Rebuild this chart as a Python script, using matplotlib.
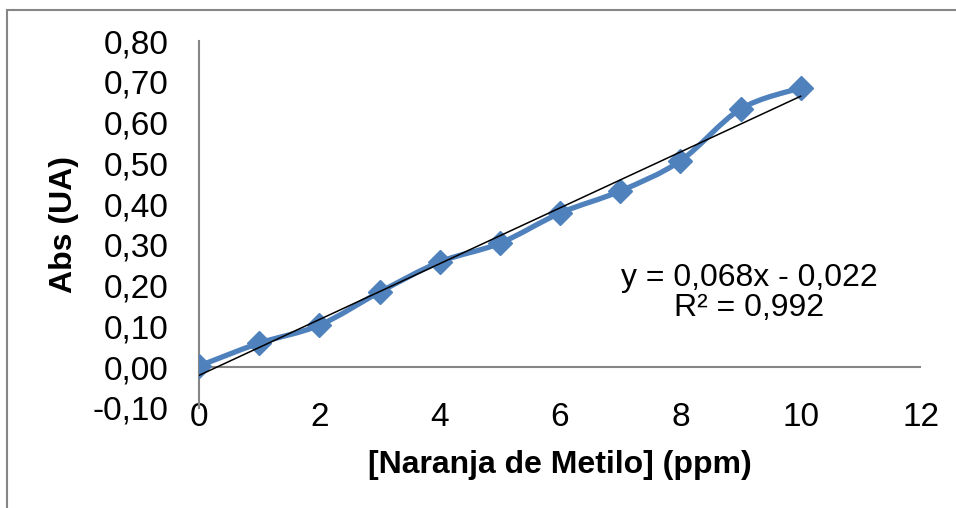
import numpy as np
import matplotlib
matplotlib.use('Agg')
import matplotlib.pyplot as plt
from matplotlib.path import Path
from matplotlib.patches import PathPatch, Rectangle

plt.rcParams['font.family'] = ['Liberation Sans', 'DejaVu Sans']

# data
conc = [0, 1, 2, 3, 4, 5, 6, 7, 8, 9, 10]
absorb = [0.003, 0.059, 0.103, 0.184, 0.258, 0.304, 0.378, 0.432, 0.506, 0.633, 0.685]
x_ticks = [0, 2, 4, 6, 8, 10, 12]
y_ticks = [-0.10, 0.00, 0.10, 0.20, 0.30, 0.40, 0.50, 0.60, 0.70, 0.80]
eq_text = 'y = 0,068x - 0,022\nR² = 0,992'

blue = '#4F81BD'
grey = '#868686'

fig = plt.figure(figsize=(9.56, 5.08), dpi=100)
ax = fig.add_axes([199/956, 1 - 408/508, (921 - 199)/956, (408 - 41)/508])

# chart area border (cropped at right / bottom)
fig.patches.append(Rectangle((7/956, -0.1), 1.2, 1.1 - 10/508, transform=fig.transFigure,
                             fill=False, edgecolor=grey, lw=1.5))

# smoothed line (Excel style bezier through points)
px = np.array(conc, dtype=float)
py = np.array(absorb)
verts = [(px[0], py[0])]
codes = [Path.MOVETO]
n = len(px)
for i in range(n - 1):
    p0 = np.array([px[max(i - 1, 0)], py[max(i - 1, 0)]])
    p1 = np.array([px[i], py[i]])
    p2 = np.array([px[i + 1], py[i + 1]])
    p3 = np.array([px[min(i + 2, n - 1)], py[min(i + 2, n - 1)]])
    c1 = p1 + (p2 - p0) / 6
    c2 = p2 - (p3 - p1) / 6
    verts += [tuple(c1), tuple(c2), tuple(p2)]
    codes += [Path.CURVE4] * 3
ax.add_patch(PathPatch(Path(verts, codes), fill=False, edgecolor=blue, lw=3.8,
                       capstyle='round', joinstyle='round', zorder=3))
ax.plot(conc, absorb, linestyle='none', marker='D', markersize=12, color=blue, zorder=4)

# linear trendline
slope, icpt = np.polyfit(conc, absorb, 1)
xs = np.array([conc[0], conc[-1]])
ax.plot(xs, slope * xs + icpt, color='black', lw=1.1, zorder=5)

ax.text(9.15, 0.183, eq_text, ha='center', va='center', fontsize=23, linespacing=1.0)

ax.axhline(0, color=grey, lw=1.5, zorder=1)
ax.set_xlim(0, 12)
ax.set_ylim(-0.1, 0.8)
ax.set_xticks(x_ticks)
ax.set_xticklabels([str(t) for t in x_ticks])
ax.set_yticks(y_ticks)
ax.set_yticklabels([f'{t:.2f}'.replace('.', ',') for t in y_ticks])
ax.tick_params(axis='both', length=0, labelsize=24)
ax.tick_params(axis='y', pad=22)
ax.tick_params(axis='x', pad=-4)
for s in ['top', 'right', 'bottom']:
    ax.spines[s].set_visible(False)
ax.spines['left'].set_color(grey)
ax.spines['left'].set_linewidth(1.5)

ax.set_xlabel('[Naranja de Metilo] (ppm)', fontsize=23, fontweight='bold', labelpad=12)
ax.set_ylabel('Abs (UA)', fontsize=23, fontweight='bold', labelpad=10)

fig.savefig('out.png', dpi=100)
